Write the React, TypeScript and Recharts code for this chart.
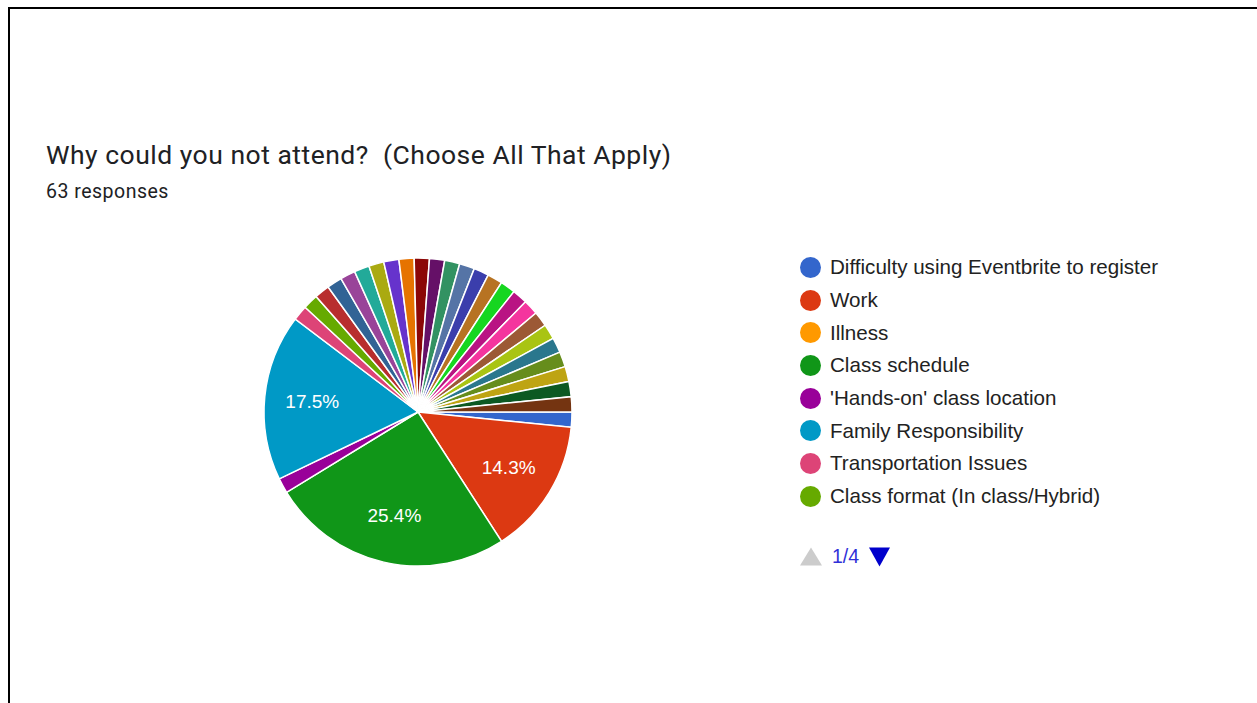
// Google Forms style pie — "Why could you not attend?" survey breakdown
import { Cell, Legend, Pie, PieChart } from 'recharts';

const categories = [
  'Difficulty using Eventbrite to register',
  'Work',
  'Illness',
  'Class schedule',
  "'Hands-on' class location",
  'Family Responsibility',
  'Transportation Issues',
  'Class format (In class/Hybrid)',
  'Other 1', 'Other 2', 'Other 3', 'Other 4', 'Other 5', 'Other 6',
  'Other 7', 'Other 8', 'Other 9', 'Other 10', 'Other 11', 'Other 12',
  'Other 13', 'Other 14', 'Other 15', 'Other 16', 'Other 17', 'Other 18',
  'Other 19', 'Other 20', 'Other 21', 'Other 22', 'Other 23',
];

const responses = [
  1, 9, 0, 16, 1, 11, 1, 1,
  1, 1, 1, 1, 1, 1,
  1, 1, 1, 1, 1, 1,
  1, 1, 1, 1, 1, 1,
  1, 1, 1, 1, 1,
];

const sliceColors = [
  '#3366cc', '#dc3912', '#ff9900', '#109618', '#990099', '#0099c6',
  '#dd4477', '#66aa00', '#b82e2e', '#316395', '#994499', '#22aa99',
  '#aaaa11', '#6633cc', '#e67300', '#8b0707', '#651067', '#329262',
  '#5574a6', '#3b3eac', '#b77322', '#16d620', '#b91383', '#f4359e',
  '#9c5935', '#a9c413', '#2a778d', '#668d1c', '#bea413', '#0c5922',
  '#743411',
];

const title = 'Why could you not attend?  (Choose All That Apply)';
const subtitle = '63 responses';
const pageLabel = '1/4';
const legendPageSize = 8;

const data = categories.map((name, i) => ({ name, value: responses[i] }));

const RADIAN = Math.PI / 180;

function renderLabel(props: any) {
  const { cx, cy, midAngle, outerRadius, percent } = props;
  if (percent < 0.05) return null;
  const r = outerRadius * 0.69;
  const x = cx + r * Math.cos(-midAngle * RADIAN);
  const y = cy + r * Math.sin(-midAngle * RADIAN);
  return (
    <text
      x={x}
      y={y}
      fill="#fff"
      textAnchor="middle"
      dominantBaseline="central"
      style={{ fontFamily: '"Liberation Sans", Arial, sans-serif', fontSize: 19 }}
    >
      {`${(percent * 100).toFixed(1)}%`}
    </text>
  );
}

function PagedLegend(props: any) {
  // keep the question's own option order, not the legend's default sort
  const items = [...(props.payload ?? [])]
    .sort((a: any, b: any) => categories.indexOf(a.value) - categories.indexOf(b.value))
    .slice(0, legendPageSize);
  return (
    <div style={{ fontFamily: '"Liberation Sans", Arial, sans-serif', fontSize: 20.6, color: '#222' }}>
      {items.map((entry: any) => (
        <div key={entry.value} style={{ display: 'flex', alignItems: 'center', height: 32.7 }}>
          <span
            style={{
              width: 21,
              height: 21,
              borderRadius: '50%',
              background: entry.color,
              marginRight: 9,
              flex: 'none',
            }}
          />
          <span>{entry.value}</span>
        </div>
      ))}
      <div style={{ display: 'flex', alignItems: 'center', marginTop: 33, height: 22 }}>
        <svg width={22} height={19} style={{ marginRight: 10 }}>
          <polygon points="0,18.5 11,0.5 22,18.5" fill="#cccccc" />
        </svg>
        <span style={{ color: '#3030d8', fontSize: 19.5, marginRight: 10 }}>{pageLabel}</span>
        <svg width={21} height={20}>
          <polygon points="0,0.5 21,0.5 10.5,19.5" fill="#0000cc" />
        </svg>
      </div>
    </div>
  );
}

export default function App() {
  return (
    <div
      style={{
        position: 'fixed',
        left: 0,
        top: 0,
        width: 1257,
        height: 703,
        overflow: 'hidden',
        background: '#fff',
      }}
    >
      <div
        style={{
          position: 'absolute',
          left: 8,
          top: 7,
          width: 1400,
          height: 900,
          border: '2px solid #000',
        }}
      />
      <div
        style={{
          position: 'absolute',
          left: 46,
          top: 139,
          fontFamily: 'Roboto, sans-serif',
          fontSize: 26.5,
          letterSpacing: 0.5,
          color: '#202124',
          whiteSpace: 'pre',
        }}
      >
        {title}
      </div>
      <div
        style={{
          position: 'absolute',
          left: 46,
          top: 180,
          fontFamily: 'Roboto, sans-serif',
          fontSize: 19.5,
          letterSpacing: 0.5,
          color: '#202124',
        }}
      >
        {subtitle}
      </div>
      <div style={{ position: 'absolute', left: 0, top: 0 }}>
        <PieChart width={1257} height={703} margin={{ top: 0, right: 0, bottom: 0, left: 0 }}>
          <Pie
            data={data}
            dataKey="value"
            nameKey="name"
            cx={418}
            cy={412}
            outerRadius={154}
            startAngle={0}
            endAngle={-360}
            stroke="#fff"
            strokeWidth={1.5}
            label={renderLabel}
            labelLine={false}
            isAnimationActive={false}
          >
            {data.map((d, i) => (
              <Cell key={d.name} fill={sliceColors[i]} />
            ))}
          </Pie>
          <Legend
            layout="vertical"
            align="right"
            verticalAlign="top"
            content={PagedLegend}
            wrapperStyle={{ left: 800, top: 251, width: 420 }}
          />
        </PieChart>
      </div>
    </div>
  );
}
